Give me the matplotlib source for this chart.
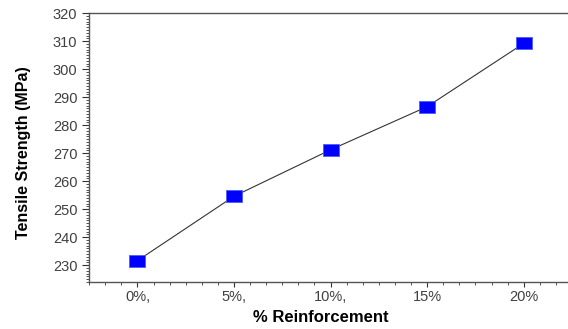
import matplotlib.pyplot as plt
from matplotlib.ticker import MultipleLocator

plt.rcParams['font.family'] = ['Liberation Sans', 'DejaVu Sans']

reinforcement = ["0%,", "5%,", "10%,", "15%", "20%"]
tensile = [231.6, 254.6, 271.2, 286.6, 309.2]

fig = plt.figure(figsize=(5.68, 3.29), dpi=100)
ax = fig.add_axes([0.157, 0.143, 0.850, 0.817])

x = list(range(len(reinforcement)))
rect = [(-1, -0.75), (1, -0.75), (1, 0.75), (-1, 0.75), (-1, -0.75)]
ax.plot(x, tensile, color="#333333", lw=0.8, zorder=2)
ax.plot(x, tensile, ls="none", marker=rect, markersize=11.5,
        markerfacecolor="#0000ff", markeredgecolor="#4a5cff",
        markeredgewidth=0.6, zorder=3)

ax.set_xlim(-0.5, 4.5)
ax.set_ylim(224, 320)
ax.set_xticks(x)
ax.set_xticklabels(reinforcement)
ax.xaxis.set_minor_locator(MultipleLocator(1 / 6))
ax.yaxis.set_major_locator(MultipleLocator(10))
ax.yaxis.set_minor_locator(MultipleLocator(1))

ax.spines['right'].set_visible(False)
for s in ['left', 'top', 'bottom']:
    ax.spines[s].set_color("#555555")
    ax.spines[s].set_linewidth(1.0)

ax.tick_params(axis='both', which='major', direction='out',
               width=0.8, color="#333333", labelsize=10.5, labelcolor="#404040")
ax.tick_params(axis='y', which='major', length=5)
ax.tick_params(axis='x', which='major', length=3.5, pad=2)
ax.tick_params(axis='both', which='minor', direction='out', length=2.5,
               width=0.6, color="#333333")

ax.set_xlabel("% Reinforcement", fontsize=12, fontweight='bold')
ax.xaxis.set_label_coords(0.48, -0.105)
ax.set_ylabel("Tensile Strength (MPa)", fontsize=11.5, fontweight='bold')
ax.yaxis.set_label_coords(-0.12, 0.48)

fig.savefig("out.png", dpi=100)
